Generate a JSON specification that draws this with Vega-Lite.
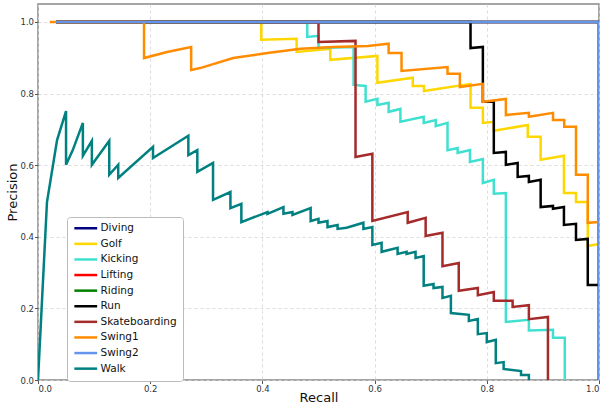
{
  "$schema": "https://vega.github.io/schema/vega-lite/v6.json",
  "width": 561,
  "height": 376,
  "autosize": "none",
  "padding": {"left": 38, "top": 4, "right": 3, "bottom": 29},
  "config": {
    "font": "DejaVu Sans",
    "view": {"stroke": "#888", "strokeWidth": 1.5},
    "axis": {"domain": false, "gridColor": "#d4d4d4", "gridDash": [3, 3], "gridWidth": 0.8, "labelFontSize": 8.5, "labelColor": "#333", "tickColor": "#555", "tickSize": 3.5, "titleFontSize": 13, "titleFontWeight": "normal", "titleColor": "#111"}
  },
  "data": {"values": [
    {"c":"Diving","i":0,"r":0.032,"p":1.0},{"c":"Diving","i":1,"r":1.0,"p":1.0},{"c":"Diving","i":2,"r":1.0,"p":0.0},
    {"c":"Golf","i":0,"r":0.032,"p":1.0},{"c":"Golf","i":1,"r":0.398,"p":1.0},{"c":"Golf","i":2,"r":0.398,"p":0.95},{"c":"Golf","i":3,"r":0.461,"p":0.953},{"c":"Golf","i":4,"r":0.461,"p":0.916},{"c":"Golf","i":5,"r":0.521,"p":0.925},{"c":"Golf","i":6,"r":0.521,"p":0.894},{"c":"Golf","i":7,"r":0.605,"p":0.905},{"c":"Golf","i":8,"r":0.605,"p":0.83},{"c":"Golf","i":9,"r":0.668,"p":0.844},{"c":"Golf","i":10,"r":0.668,"p":0.821},{"c":"Golf","i":11,"r":0.688,"p":0.821},{"c":"Golf","i":12,"r":0.688,"p":0.807},{"c":"Golf","i":13,"r":0.771,"p":0.827},{"c":"Golf","i":14,"r":0.771,"p":0.76},{"c":"Golf","i":15,"r":0.793,"p":0.76},{"c":"Golf","i":16,"r":0.793,"p":0.718},{"c":"Golf","i":17,"r":0.8125,"p":0.721},{"c":"Golf","i":18,"r":0.8125,"p":0.696},{"c":"Golf","i":19,"r":0.873,"p":0.712},{"c":"Golf","i":20,"r":0.873,"p":0.679},{"c":"Golf","i":21,"r":0.896,"p":0.679},{"c":"Golf","i":22,"r":0.896,"p":0.615},{"c":"Golf","i":23,"r":0.9375,"p":0.626},{"c":"Golf","i":24,"r":0.9375,"p":0.522},{"c":"Golf","i":25,"r":0.959,"p":0.522},{"c":"Golf","i":26,"r":0.959,"p":0.497},{"c":"Golf","i":27,"r":0.98,"p":0.497},{"c":"Golf","i":28,"r":0.98,"p":0.374},{"c":"Golf","i":29,"r":1.0,"p":0.38},
    {"c":"Kicking","i":0,"r":0.032,"p":1.0},{"c":"Kicking","i":1,"r":0.48,"p":1.0},{"c":"Kicking","i":2,"r":0.48,"p":0.958},{"c":"Kicking","i":3,"r":0.5,"p":0.961},{"c":"Kicking","i":4,"r":0.5,"p":0.927},{"c":"Kicking","i":5,"r":0.5625,"p":0.93},{"c":"Kicking","i":6,"r":0.5625,"p":0.824},{"c":"Kicking","i":7,"r":0.584,"p":0.821},{"c":"Kicking","i":8,"r":0.584,"p":0.777},{"c":"Kicking","i":9,"r":0.605,"p":0.785},{"c":"Kicking","i":10,"r":0.605,"p":0.768},{"c":"Kicking","i":11,"r":0.625,"p":0.774},{"c":"Kicking","i":12,"r":0.625,"p":0.749},{"c":"Kicking","i":13,"r":0.646,"p":0.757},{"c":"Kicking","i":14,"r":0.646,"p":0.721},{"c":"Kicking","i":15,"r":0.6875,"p":0.735},{"c":"Kicking","i":16,"r":0.6875,"p":0.718},{"c":"Kicking","i":17,"r":0.709,"p":0.726},{"c":"Kicking","i":18,"r":0.709,"p":0.709},{"c":"Kicking","i":19,"r":0.73,"p":0.718},{"c":"Kicking","i":20,"r":0.73,"p":0.642},{"c":"Kicking","i":21,"r":0.748,"p":0.648},{"c":"Kicking","i":22,"r":0.748,"p":0.634},{"c":"Kicking","i":23,"r":0.77,"p":0.642},{"c":"Kicking","i":24,"r":0.77,"p":0.609},{"c":"Kicking","i":25,"r":0.793,"p":0.617},{"c":"Kicking","i":26,"r":0.793,"p":0.55},{"c":"Kicking","i":27,"r":0.8125,"p":0.559},{"c":"Kicking","i":28,"r":0.8125,"p":0.52},{"c":"Kicking","i":29,"r":0.834,"p":0.522},{"c":"Kicking","i":30,"r":0.834,"p":0.162},{"c":"Kicking","i":31,"r":0.875,"p":0.168},{"c":"Kicking","i":32,"r":0.875,"p":0.138},{"c":"Kicking","i":33,"r":0.918,"p":0.14},{"c":"Kicking","i":34,"r":0.918,"p":0.118},{"c":"Kicking","i":35,"r":0.939,"p":0.118},{"c":"Kicking","i":36,"r":0.939,"p":0.0},
    {"c":"Lifting","i":0,"r":0.032,"p":1.0},{"c":"Lifting","i":1,"r":1.0,"p":1.0},{"c":"Lifting","i":2,"r":1.0,"p":0.0},
    {"c":"Riding","i":0,"r":0.032,"p":1.0},{"c":"Riding","i":1,"r":1.0,"p":1.0},{"c":"Riding","i":2,"r":1.0,"p":0.0},
    {"c":"Run","i":0,"r":0.032,"p":1.0},{"c":"Run","i":1,"r":0.771,"p":1.0},{"c":"Run","i":2,"r":0.771,"p":0.927},{"c":"Run","i":3,"r":0.793,"p":0.93},{"c":"Run","i":4,"r":0.793,"p":0.777},{"c":"Run","i":5,"r":0.8125,"p":0.777},{"c":"Run","i":6,"r":0.8125,"p":0.634},{"c":"Run","i":7,"r":0.834,"p":0.637},{"c":"Run","i":8,"r":0.834,"p":0.601},{"c":"Run","i":9,"r":0.855,"p":0.606},{"c":"Run","i":10,"r":0.855,"p":0.567},{"c":"Run","i":11,"r":0.875,"p":0.57},{"c":"Run","i":12,"r":0.875,"p":0.553},{"c":"Run","i":13,"r":0.896,"p":0.559},{"c":"Run","i":14,"r":0.896,"p":0.483},{"c":"Run","i":15,"r":0.918,"p":0.486},{"c":"Run","i":16,"r":0.918,"p":0.478},{"c":"Run","i":17,"r":0.9375,"p":0.483},{"c":"Run","i":18,"r":0.9375,"p":0.433},{"c":"Run","i":19,"r":0.959,"p":0.436},{"c":"Run","i":20,"r":0.959,"p":0.391},{"c":"Run","i":21,"r":0.98,"p":0.394},{"c":"Run","i":22,"r":0.98,"p":0.265},{"c":"Run","i":23,"r":1.0,"p":0.265},
    {"c":"Skateboarding","i":0,"r":0.032,"p":1.0},{"c":"Skateboarding","i":1,"r":0.5,"p":1.0},{"c":"Skateboarding","i":2,"r":0.5,"p":0.944},{"c":"Skateboarding","i":3,"r":0.566,"p":0.947},{"c":"Skateboarding","i":4,"r":0.566,"p":0.623},{"c":"Skateboarding","i":5,"r":0.596,"p":0.632},{"c":"Skateboarding","i":6,"r":0.596,"p":0.444},{"c":"Skateboarding","i":7,"r":0.659,"p":0.469},{"c":"Skateboarding","i":8,"r":0.659,"p":0.439},{"c":"Skateboarding","i":9,"r":0.691,"p":0.453},{"c":"Skateboarding","i":10,"r":0.691,"p":0.402},{"c":"Skateboarding","i":11,"r":0.721,"p":0.411},{"c":"Skateboarding","i":12,"r":0.721,"p":0.318},{"c":"Skateboarding","i":13,"r":0.75,"p":0.327},{"c":"Skateboarding","i":14,"r":0.75,"p":0.249},{"c":"Skateboarding","i":15,"r":0.784,"p":0.257},{"c":"Skateboarding","i":16,"r":0.784,"p":0.237},{"c":"Skateboarding","i":17,"r":0.8125,"p":0.246},{"c":"Skateboarding","i":18,"r":0.8125,"p":0.221},{"c":"Skateboarding","i":19,"r":0.846,"p":0.221},{"c":"Skateboarding","i":20,"r":0.846,"p":0.204},{"c":"Skateboarding","i":21,"r":0.875,"p":0.209},{"c":"Skateboarding","i":22,"r":0.875,"p":0.17},{"c":"Skateboarding","i":23,"r":0.909,"p":0.176},{"c":"Skateboarding","i":24,"r":0.909,"p":0.0},
    {"c":"Swing1","i":0,"r":0.021,"p":1.0},{"c":"Swing1","i":1,"r":0.189,"p":1.0},{"c":"Swing1","i":2,"r":0.189,"p":0.899},{"c":"Swing1","i":3,"r":0.23,"p":0.916},{"c":"Swing1","i":4,"r":0.273,"p":0.93},{"c":"Swing1","i":5,"r":0.273,"p":0.866},{"c":"Swing1","i":6,"r":0.289,"p":0.871},{"c":"Swing1","i":7,"r":0.348,"p":0.899},{"c":"Swing1","i":8,"r":0.409,"p":0.913},{"c":"Swing1","i":9,"r":0.468,"p":0.925},{"c":"Swing1","i":10,"r":0.527,"p":0.93},{"c":"Swing1","i":11,"r":0.588,"p":0.933},{"c":"Swing1","i":12,"r":0.625,"p":0.939},{"c":"Swing1","i":13,"r":0.625,"p":0.913},{"c":"Swing1","i":14,"r":0.648,"p":0.913},{"c":"Swing1","i":15,"r":0.648,"p":0.863},{"c":"Swing1","i":16,"r":0.73,"p":0.874},{"c":"Swing1","i":17,"r":0.73,"p":0.855},{"c":"Swing1","i":18,"r":0.752,"p":0.855},{"c":"Swing1","i":19,"r":0.752,"p":0.818},{"c":"Swing1","i":20,"r":0.793,"p":0.827},{"c":"Swing1","i":21,"r":0.793,"p":0.777},{"c":"Swing1","i":22,"r":0.834,"p":0.785},{"c":"Swing1","i":23,"r":0.834,"p":0.74},{"c":"Swing1","i":24,"r":0.875,"p":0.746},{"c":"Swing1","i":25,"r":0.875,"p":0.735},{"c":"Swing1","i":26,"r":0.918,"p":0.746},{"c":"Swing1","i":27,"r":0.918,"p":0.726},{"c":"Swing1","i":28,"r":0.938,"p":0.726},{"c":"Swing1","i":29,"r":0.938,"p":0.707},{"c":"Swing1","i":30,"r":0.959,"p":0.707},{"c":"Swing1","i":31,"r":0.959,"p":0.573},{"c":"Swing1","i":32,"r":0.98,"p":0.573},{"c":"Swing1","i":33,"r":0.98,"p":0.439},{"c":"Swing1","i":34,"r":1.0,"p":0.441},
    {"c":"Swing2","i":0,"r":0.032,"p":1.0},{"c":"Swing2","i":1,"r":1.0,"p":1.0},{"c":"Swing2","i":2,"r":1.0,"p":0.0},
    {"c":"Walk","i":0,"r":0.0,"p":0.0},{"c":"Walk","i":1,"r":0.016,"p":0.497},{"c":"Walk","i":2,"r":0.034,"p":0.67},{"c":"Walk","i":3,"r":0.05,"p":0.751},{"c":"Walk","i":4,"r":0.05,"p":0.601},{"c":"Walk","i":5,"r":0.062,"p":0.642},{"c":"Walk","i":6,"r":0.08,"p":0.718},{"c":"Walk","i":7,"r":0.08,"p":0.626},{"c":"Walk","i":8,"r":0.096,"p":0.668},{"c":"Walk","i":9,"r":0.096,"p":0.601},{"c":"Walk","i":10,"r":0.127,"p":0.668},{"c":"Walk","i":11,"r":0.127,"p":0.573},{"c":"Walk","i":12,"r":0.143,"p":0.601},{"c":"Walk","i":13,"r":0.143,"p":0.564},{"c":"Walk","i":14,"r":0.205,"p":0.651},{"c":"Walk","i":15,"r":0.205,"p":0.62},{"c":"Walk","i":16,"r":0.268,"p":0.682},{"c":"Walk","i":17,"r":0.268,"p":0.628},{"c":"Walk","i":18,"r":0.284,"p":0.642},{"c":"Walk","i":19,"r":0.284,"p":0.581},{"c":"Walk","i":20,"r":0.312,"p":0.606},{"c":"Walk","i":21,"r":0.312,"p":0.503},{"c":"Walk","i":22,"r":0.343,"p":0.525},{"c":"Walk","i":23,"r":0.343,"p":0.48},{"c":"Walk","i":24,"r":0.3625,"p":0.492},{"c":"Walk","i":25,"r":0.3625,"p":0.441},{"c":"Walk","i":26,"r":0.409,"p":0.469},{"c":"Walk","i":27,"r":0.409,"p":0.464},{"c":"Walk","i":28,"r":0.4375,"p":0.483},{"c":"Walk","i":29,"r":0.4375,"p":0.464},{"c":"Walk","i":30,"r":0.4536,"p":0.469},{"c":"Walk","i":31,"r":0.4536,"p":0.461},{"c":"Walk","i":32,"r":0.486,"p":0.48},{"c":"Walk","i":33,"r":0.486,"p":0.444},{"c":"Walk","i":34,"r":0.5,"p":0.45},{"c":"Walk","i":35,"r":0.5,"p":0.439},{"c":"Walk","i":36,"r":0.516,"p":0.444},{"c":"Walk","i":37,"r":0.516,"p":0.427},{"c":"Walk","i":38,"r":0.534,"p":0.433},{"c":"Walk","i":39,"r":0.534,"p":0.422},{"c":"Walk","i":40,"r":0.55,"p":0.425},{"c":"Walk","i":41,"r":0.58,"p":0.439},{"c":"Walk","i":42,"r":0.58,"p":0.422},{"c":"Walk","i":43,"r":0.596,"p":0.427},{"c":"Walk","i":44,"r":0.596,"p":0.377},{"c":"Walk","i":45,"r":0.6125,"p":0.383},{"c":"Walk","i":46,"r":0.6125,"p":0.358},{"c":"Walk","i":47,"r":0.641,"p":0.369},{"c":"Walk","i":48,"r":0.641,"p":0.352},{"c":"Walk","i":49,"r":0.657,"p":0.358},{"c":"Walk","i":50,"r":0.657,"p":0.352},{"c":"Walk","i":51,"r":0.673,"p":0.358},{"c":"Walk","i":52,"r":0.673,"p":0.341},{"c":"Walk","i":53,"r":0.6875,"p":0.346},{"c":"Walk","i":54,"r":0.6875,"p":0.263},{"c":"Walk","i":55,"r":0.705,"p":0.268},{"c":"Walk","i":56,"r":0.705,"p":0.257},{"c":"Walk","i":57,"r":0.721,"p":0.26},{"c":"Walk","i":58,"r":0.721,"p":0.229},{"c":"Walk","i":59,"r":0.736,"p":0.235},{"c":"Walk","i":60,"r":0.736,"p":0.187},{"c":"Walk","i":61,"r":0.768,"p":0.182},{"c":"Walk","i":62,"r":0.768,"p":0.165},{"c":"Walk","i":63,"r":0.784,"p":0.17},{"c":"Walk","i":64,"r":0.784,"p":0.128},{"c":"Walk","i":65,"r":0.8,"p":0.131},{"c":"Walk","i":66,"r":0.8,"p":0.106},{"c":"Walk","i":67,"r":0.816,"p":0.112},{"c":"Walk","i":68,"r":0.816,"p":0.047},{"c":"Walk","i":69,"r":0.83,"p":0.05},{"c":"Walk","i":70,"r":0.83,"p":0.031},{"c":"Walk","i":71,"r":0.861,"p":0.025},{"c":"Walk","i":72,"r":0.861,"p":0.014},{"c":"Walk","i":73,"r":0.875,"p":0.014},{"c":"Walk","i":74,"r":0.875,"p":0.0}
  ]},
  "mark": {"type": "line", "strokeWidth": 2.5, "clip": true},
  "encoding": {
    "x": {"field": "r", "type": "quantitative", "title": "Recall", "scale": {"domain": [0, 1], "nice": false, "zero": false}, "axis": {"values": [0, 0.2, 0.4, 0.6, 0.8, 1.0], "format": ".1f", "titlePadding": -2, "labelPadding": 1}},
    "y": {"field": "p", "type": "quantitative", "title": "Precision", "scale": {"domain": [0, 1.05], "nice": false, "zero": false}, "axis": {"values": [0, 0.2, 0.4, 0.6, 0.8, 1.0], "format": ".1f", "titlePadding": 0, "labelPadding": 1}},
    "order": {"field": "i", "type": "quantitative"},
    "color": {
      "field": "c", "type": "nominal",
      "scale": {"domain": ["Diving","Golf","Kicking","Lifting","Riding","Run","Skateboarding","Swing1","Swing2","Walk"], "range": ["#000080","#FFD700","#40E0D0","#FF0000","#008000","#000000","#A52A2A","#FF8C00","#6495ED","#008080"]},
      "legend": {"title": null, "orient": "none", "legendX": 29, "legendY": 213, "fillColor": "white", "strokeColor": "#bbb", "cornerRadius": 3, "padding": 6, "symbolType": "M-3.8,0H3.8", "symbolSize": 36, "symbolStrokeWidth": 2.5, "symbolOffset": 7.5, "labelFontSize": 10.5, "labelColor": "#111", "labelOffset": 9.5, "rowPadding": 4.6}
    }
  }
}
